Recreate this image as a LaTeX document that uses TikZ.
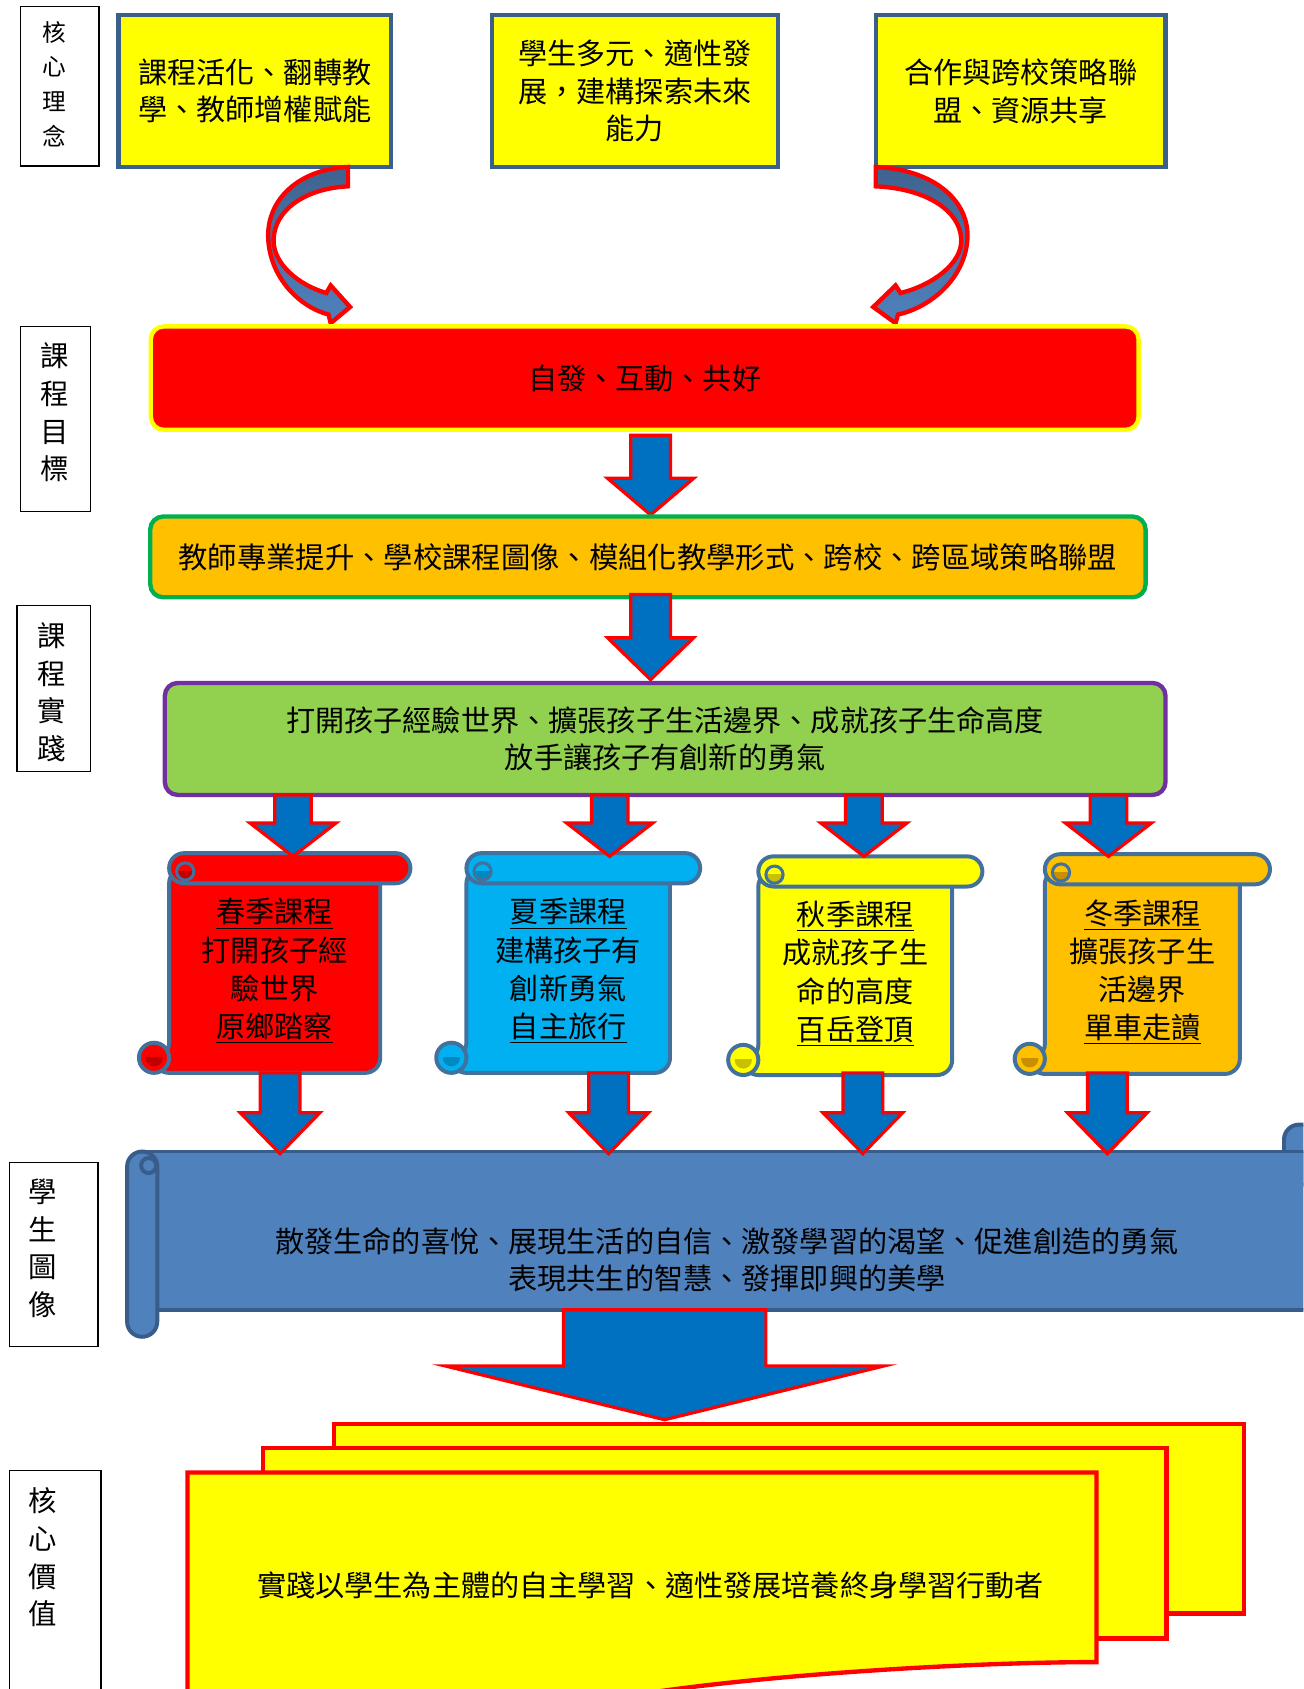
\documentclass[tikz,border=0pt]{standalone}
\usepackage{fontspec}
\setmainfont{Noto Sans CJK TC}
\usetikzlibrary{calc}

\definecolor{boxblue}{HTML}{3A5F8B}
\definecolor{arrowblue}{HTML}{0070C0}
\definecolor{scrollblue}{HTML}{41719C}
\definecolor{orangefill}{HTML}{FFC000}
\definecolor{greenline}{HTML}{00B050}
\definecolor{lightgreen}{HTML}{92D050}
\definecolor{purpleline}{HTML}{7030A0}
\definecolor{skyfill}{HTML}{00B0F0}
\definecolor{bigfill}{HTML}{4F81BD}
\definecolor{bigline}{HTML}{385D8A}
\definecolor{curvetop}{HTML}{3F6390}
\definecolor{darkred}{HTML}{C00000}
\definecolor{darksky}{HTML}{0088C0}
\definecolor{darkyellow}{HTML}{C8C000}
\definecolor{darkorange}{HTML}{C89000}
\definecolor{pureyellow}{HTML}{FFFF00}

\newcommand{\pu}{0.02cm}
\newcommand{\mainsize}{\fontsize{15.4}{19.9}\selectfont}

\tikzset{
	labelbox/.style={draw=black,line width=0.8pt,fill=white},
	labeltext/.style={align=center,inner sep=0pt,font=\fontsize{15}{19.9}\selectfont},
	ideabox/.style={draw=boxblue,line width=2.2pt,fill=pureyellow,align=center,inner sep=0pt,font=\mainsize},
	bandbox/.style={line width=2.3pt,rounded corners=0.24cm,align=center,inner sep=0pt,font=\mainsize},
	blockarrow/.style={draw=red,line width=1.7pt,fill=arrowblue},
	curvearrow/.style={draw=red,line width=2.3pt,top color=curvetop,bottom color=bigfill},
	scrollline/.style={draw=scrollblue,line width=2.1pt},
	scrolltext/.style={align=center,inner sep=0pt,font=\fontsize{15.4}{20.2}\selectfont},
	bigscroll/.style={draw=bigline,line width=2.1pt,fill=bigfill},
	docshape/.style={draw=red,line width=2.3pt,fill=pureyellow},
}

\newcommand{\CurvedArrow}[2]{
	\begin{scope}[shift={(#1,0)},xscale=#2]
		\draw[curvearrow] (0,155) .. controls (-45,157) and (-76,185) .. (-74,222)
		.. controls (-72,258) and (-45,285) .. (-18,292) -- (-16,300) -- (2,285) -- (-16,265)
		-- (-20,272) .. controls (-45,265) and (-70,245) .. (-69,222)
		.. controls (-68,195) and (-40,175) .. (0,173) -- cycle;
	\end{scope}
}

\newcommand{\BlockArrow}[6]{
	\draw[blockarrow] ({#1-#5},#2) -- ({#1+#5},#2) -- ({#1+#5},#3) -- ({#1+#6},#3)
	-- (#1,#4) -- ({#1-#6},#3) -- ({#1-#5},#3) -- cycle;
}

\newcommand{\Scroll}[8]{
	%body
	\draw[scrollline,fill=#6,rounded corners=0.28cm] ({#2+28},{#3+14}) -- ({#4-28},{#3+14})
	-- ({#4-28},#5) -- ({#2+14},#5) -- ({#2+14},{#5-14}) -- ({#2+28},{#5-14}) -- cycle;
	%top roll
	\draw[scrollline,fill=#6,rounded corners=0.28cm] ({#2+28},#3) rectangle (#4,{#3+28});
	\begin{scope}
		\clip ({#2+34},{#3+17}) rectangle ({#2+52},{#3+30});
		\fill[#7] ({#2+43},{#3+17}) circle[radius=8];
	\end{scope}
	\draw[scrollline,line width=1.6pt] ({#2+43},{#3+17}) circle[radius=8];
	%bottom roll
	\draw[scrollline,fill=#6] ({#2+14},{#5-14}) circle[radius=14];
	\begin{scope}
		\clip ({#2+5},{#5-14}) rectangle ({#2+23},{#5-5});
		\fill[#7] ({#2+14},{#5-14}) circle[radius=8];
	\end{scope}
	%text
	\node[scrolltext] (#1) at ({(#2+#4)/2},{(#3+#5)/2+7.5}) {#8};
}

\begin{document}
\begin{tikzpicture}[x=0.02cm,y=-0.02cm]
	\useasboundingbox (0,0) rectangle (1210,1568);
	\clip (0,0) rectangle (1210,1568);
	
	%side labels
	\draw[labelbox] (19,6) rectangle (92,154);
	\node[labeltext,font=\fontsize{12.5}{18.4}\selectfont] (core) at (50,78) {核\\心\\理\\念};
	\draw[labelbox] (19,303) rectangle (84,475);
	\node[labeltext] (aim) at (51,383) {課\\程\\目\\標};
	\draw[labelbox] (16,562) rectangle (84,716);
	\node[labeltext] (practise) at (48,642.5) {課\\程\\實\\踐};
	\draw[labelbox] (9,1079) rectangle (91,1250);
	\node[labeltext] (portrait) at (40,1159) {學\\生\\圖\\像};
	\draw[labelbox] (9,1365) rectangle (94,1620);
	\node[labeltext] (value) at (40,1446) {核\\心\\價\\值};
	
	%ideas
	\node[ideabox,minimum width=253*\pu,minimum height=141*\pu] (idea1) at (236.5,84.5) {課程活化、翻轉教\\學、教師增權賦能};
	\node[ideabox,minimum width=265*\pu,minimum height=141*\pu] (idea2) at (589.5,84.5) {學生多元、適性發\\展，建構探索未來\\能力};
	\node[ideabox,minimum width=269*\pu,minimum height=141*\pu] (idea3) at (947.5,84.5) {合作與跨校策略聯\\盟、資源共享};
	\CurvedArrow{323}{1}
	\CurvedArrow{813}{-1.15}
	
	%goals
	\node[bandbox,draw=pureyellow,fill=red,minimum width=917*\pu,minimum height=96*\pu] (goal) at (598.5,351) {自發、互動、共好};
	\BlockArrow{604}{404}{444}{478}{18.5}{40}
	\node[bandbox,draw=greenline,fill=orangefill,minimum width=924*\pu,minimum height=75*\pu,font=\fontsize{15.5}{19.9}\selectfont] (plan) at (601.5,517) {教師專業提升、學校課程圖像、模組化教學形式、跨校、跨區域策略聯盟};
	\BlockArrow{604}{552}{592}{631}{18.5}{40}
	\node[bandbox,draw=purpleline,fill=lightgreen,minimum width=929*\pu,minimum height=104*\pu] (open) at (617.5,686) {打開孩子經驗世界、擴張孩子生活邊界、成就孩子生命高度\\放手讓孩子有創新的勇氣};
	
	%seasons
	\Scroll{spring}{129}{792}{381}{996}{red}{darkred}{\underline{春季課程}\\打開孩子經\\驗世界\\\underline{原鄉踏察}}
	\Scroll{summer}{405}{792}{650}{996}{skyfill}{darksky}{\underline{夏季課程}\\建構孩子有\\創新勇氣\\\underline{自主旅行}}
	\Scroll{autumn}{676}{795}{912}{998}{pureyellow}{darkyellow}{\underline{秋季課程}\\成就孩子生\\命的高度\\\underline{百岳登頂}}
	\Scroll{winter}{942}{793}{1179}{997}{orangefill}{darkorange}{\underline{冬季課程}\\擴張孩子生\\活邊界\\\underline{單車走讀}}
	\foreach \x in {272,566,802,1029}{
		\BlockArrow{\x}{738}{764}{795}{17}{40}
	}
	
	%student portrait
	\draw[bigscroll,rounded corners=0.28cm] (1192,1044) rectangle (1250,1100);
	\draw[bigscroll] (132,1069) rectangle (1260,1216);
	\draw[bigscroll,rounded corners=0.28cm] (118,1069) rectangle (146,1241);
	\draw[bigscroll] (138,1082) circle[radius=7];
	\node[scrolltext,font=\fontsize{15.4}{19.9}\selectfont] (image) at (675,1169.5) {散發生命的喜悅、展現生活的自信、激發學習的渴望、促進創造的勇氣\\表現共生的智慧、發揮即興的美學};
	\foreach \x in {260,565,801,1028}{
		\BlockArrow{\x}{996}{1033}{1071}{18.5}{37}
	}
	\BlockArrow{617}{1216}{1268}{1318}{94}{204}
	
	%core value
	\draw[docshape] (310,1322) rectangle (1155,1498);
	\draw[docshape] (244,1344) rectangle (1083,1521);
	\draw[docshape] (174,1620) -- (174,1367) -- (1018,1367) -- (1018,1543)
	.. controls (900,1543) and (700,1555) .. (580,1575) -- (520,1620) -- cycle;
	\node[scrolltext,font=\mainsize] (act) at (604,1472) {實踐以學生為主體的自主學習、適性發展培養終身學習行動者};
\end{tikzpicture}
\end{document}
